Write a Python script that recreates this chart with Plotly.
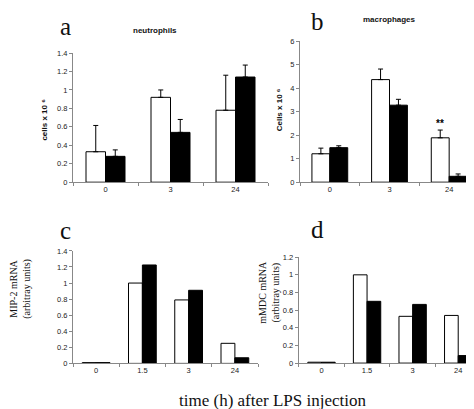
import plotly.graph_objects as go

# ---- data ----
cats_ab = ["0", "3", "24"]
neut_white = [0.33, 0.92, 0.78]
neut_white_err = [0.285, 0.08, 0.38]
neut_black = [0.28, 0.54, 1.14]
neut_black_err = [0.07, 0.14, 0.13]

mac_white = [1.21, 4.37, 1.89]
mac_white_err = [0.24, 0.45, 0.33]
mac_black = [1.47, 3.28, 0.25]
mac_black_err = [0.08, 0.25, 0.10]

cats_cd = ["0", "1.5", "3", "24"]
mip2_white = [0.01, 1.0, 0.79, 0.25]
mip2_black = [0.01, 1.225, 0.91, 0.07]
mmdc_white = [0.01, 1.0, 0.53, 0.54]
mmdc_black = [0.01, 0.70, 0.665, 0.085]

W, H = 474, 409
def px(x): return x / W
def py(y): return 1 - y / H

tickfont = dict(family="Liberation Sans, Arial, sans-serif", size=7.5, color="#222")
serif = "Liberation Serif, Times New Roman, serif"
sans = "Liberation Sans, Arial, sans-serif"

fig = go.Figure()

def add_pair(xa, ya, cats, white, black, werr=None, berr=None):
    eb = lambda e: dict(type="data", array=e, arrayminus=[0]*len(e), symmetric=False,
                        color="black", thickness=1, width=2.5) if e else None
    fig.add_trace(go.Bar(x=cats, y=white, xaxis=xa, yaxis=ya, marker=dict(color="white",
                  line=dict(color="black", width=1)), error_y=eb(werr), showlegend=False))
    fig.add_trace(go.Bar(x=cats, y=black, xaxis=xa, yaxis=ya, marker=dict(color="black",
                  line=dict(color="black", width=1)), error_y=eb(berr), showlegend=False))

add_pair("x", "y", cats_ab, neut_white, neut_black, neut_white_err, neut_black_err)
add_pair("x2", "y2", cats_ab, mac_white, mac_black, mac_white_err, mac_black_err)
add_pair("x3", "y3", cats_cd, mip2_white, mip2_black)
add_pair("x4", "y4", cats_cd, mmdc_white, mmdc_black)

def xax(dom, anchor, cats):
    return dict(domain=dom, anchor=anchor, type="category", categoryorder="array",
                categoryarray=cats, range=[-0.5, len(cats) - 0.5],
                showline=True, linecolor="#888",
                linewidth=1, ticks="outside", tickson="boundaries", ticklen=3, tickcolor="#888",
                tickfont=tickfont, showgrid=False, zeroline=False, fixedrange=True)

def yax(dom, anchor, rng, dtick):
    return dict(domain=dom, anchor=anchor, range=rng, dtick=dtick, showline=True, linecolor="#888",
                linewidth=1, ticks="outside", ticklen=3, tickcolor="#888", tickfont=tickfont,
                showgrid=False, zeroline=False, fixedrange=True)

fig.update_layout(
    width=W, height=H, margin=dict(l=0, r=0, t=0, b=0),
    paper_bgcolor="white", plot_bgcolor="white",
    barmode="group", bargap=0.4, bargroupgap=0,
    xaxis=xax([px(65), px(260)], "y", cats_ab),
    yaxis=yax([py(174), py(42)], "x", [0, 1.4], 0.2),
    xaxis2=xax([px(292), px(471)], "y2", cats_ab),
    yaxis2=yax([py(174), py(30)], "x2", [0, 6], 1),
    xaxis3=xax([px(65), px(250)], "y3", cats_cd),
    yaxis3=yax([py(359.3), py(244.3)], "x3", [0, 1.4], 0.2),
    xaxis4=xax([px(290.7), px(473)], "y4", cats_cd),
    yaxis4=yax([py(359), py(250.7)], "x4", [0, 1.2], 0.2),
)

def ann(text, x, y, size, family, angle=0, bold=False, **kw):
    if bold:
        text = "<b>" + text + "</b>"
    fig.add_annotation(text=text, x=px(x), y=py(y), xref="paper", yref="paper",
                       showarrow=False, textangle=angle, xanchor="center", yanchor="middle",
                       font=dict(size=size, family=family, color="#111"), **kw)

ann("a", 57, 15, 25, serif)
ann("b", 309, 10, 25, serif)
ann("c", 57, 223, 25, serif)
ann("d", 309, 222, 25, serif)
ann("neutrophils", 147, 19, 8, sans, bold=True)
ann("macrophages", 381, 8, 8, sans, bold=True)
ann("cells x 10 \u2076", 37, 110, 8, sans, angle=-90, bold=True)
ann("Cells x 10 \u2076", 271.5, 100, 8, sans, angle=-90, bold=True)
ann("MIP-2 mRNA<br>(arbitray units)", 13, 283, 10, serif, angle=-90)
ann("mMDC mRNA<br>(arbitray units)", 262, 287, 10, serif, angle=-90)
ann("time (h) after LPS injection", 264, 397, 17, serif)

# significance marker above white bar at 24 h in panel b (category index 2)
fig.add_annotation(text="<b>**</b>", x=2, y=2.5, xref="x2", yref="y2", xshift=-9,
                   showarrow=False, font=dict(size=10, family=sans, color="black"))

fig.write_html("out.html")
